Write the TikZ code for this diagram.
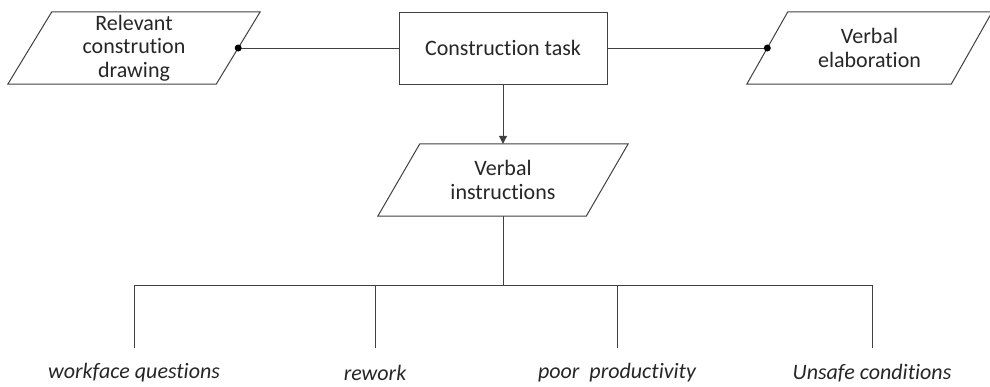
\documentclass[tikz,border=0pt]{standalone}
\usepackage{fontspec}
\setmainfont[Ligatures={NoCommon}]{Carlito}
\usetikzlibrary{arrows.meta,calc}
\begin{document}
\begin{tikzpicture}[x=1pt,y=-1pt,
  ln/.style={draw=black!75, line width=1pt},
  box/.style={minimum width=208pt, minimum height=72pt, inner sep=0pt, align=center,
    font=\fontsize{22}{23.5}\selectfont, text=black!85},
  lbl/.style={inner sep=0pt, font=\fontsize{22}{23.5}\selectfont\itshape, text=black!85},
  dot/.style={circle, fill=black, inner sep=0pt, minimum size=7pt}]
\useasboundingbox (0,0) rectangle (990,386);
% nodes
\node[box] (rel) at (134,48) {Relevant\\constrution\\drawing};
\node[box, ln] (task) at (503,48) {Construction task};
\node[box, minimum width=204pt] (elab) at (869.5,48) {Verbal\\elaboration};
\node[box] (vi) at (503,180) {Verbal\\instructions};
% parallelograms
\draw[ln] ([xshift=22pt]rel.north west) -- ([xshift=22pt]rel.north east) -- ([xshift=-22pt]rel.south east) -- ([xshift=-22pt]rel.south west) -- cycle;
\draw[ln] ([xshift=20.5pt]elab.north west) -- ([xshift=20.5pt]elab.north east) -- ([xshift=-20.5pt]elab.south east) -- ([xshift=-20.5pt]elab.south west) -- cycle;
\draw[ln] ([xshift=21pt]vi.north west) -- ([xshift=21pt]vi.north east) -- ([xshift=-21pt]vi.south east) -- ([xshift=-21pt]vi.south west) -- cycle;
% connectors
\draw[ln] (rel.east) -- (task.west);
\draw[ln] (task.east) -- (elab.west);
\node[dot] (d1) at (rel.east) {};
\node[dot] (d2) at (elab.west) {};
\draw[ln, -{Triangle[length=8pt,width=8pt]}] (task.south) -- (vi.north);
% tree
\coordinate (hub) at (503,285);
\coordinate (b1) at (134,285);
\coordinate (b2) at (375,285);
\coordinate (b3) at (617,285);
\coordinate (b4) at (872,285);
\coordinate (e1) at (134,348);
\coordinate (e2) at (375,348);
\coordinate (e3) at (617,348);
\coordinate (e4) at (872,348);
\draw[ln] (vi.south) -- (hub);
\draw[ln] (b1) -- (b4);
\draw[ln] (b1) -- (e1);
\draw[ln] (b2) -- (e2);
\draw[ln] (b3) -- (e3);
\draw[ln] (b4) -- (e4);
\node[lbl] (l1) at (134,373) {workface questions};
\node[lbl] (l2) at (375,373) {rework};
\node[lbl] (l3) at (617,373) {poor\ \ productivity};
\node[lbl] (l4) at (872,373) {Unsafe conditions};
\end{tikzpicture}
\end{document}
